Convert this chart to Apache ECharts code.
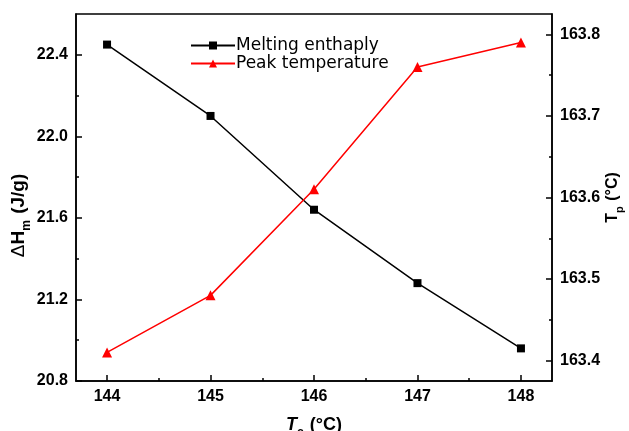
<!DOCTYPE html>
<html>
<head>
<meta charset="utf-8">
<script src="https://cdn.jsdelivr.net/npm/echarts@6/dist/echarts.min.js"></script>
<style>
html,body{margin:0;padding:0;background:#fff;}
#chart{width:629px;height:431px;}
</style>
</head>
<body>
<div id="chart"></div>
<script>
var tc = [144, 145, 146, 147, 148];
var enthalpy = [22.45, 22.10, 21.64, 21.28, 20.96];
var peakTemp = [163.41, 163.48, 163.61, 163.76, 163.79];
var xTicks = [144, 145, 146, 147, 148];
var xMinorTicks = [144.5, 145.5, 146.5, 147.5];
var leftTicks = [20.8, 21.2, 21.6, 22.0, 22.4];
var leftMinorTicks = [21.0, 21.4, 21.8, 22.2];
var rightTicks = [163.4, 163.5, 163.6, 163.7, 163.8];
var rightMinorTicks = [163.45, 163.55, 163.65, 163.75];

var FONT = 'Liberation Sans, Arial, sans-serif';
var chart = echarts.init(document.getElementById('chart'), null, {renderer: 'canvas'});

function fmt1(v){ return v.toFixed(1); }
function fmt0(v){ return String(Math.round(v)); }

function makeRich(size, subSize, drop){
  return {
    b: {fontFamily: FONT, fontWeight: 'bold', fontSize: size, color: '#000', verticalAlign: 'bottom', padding: [0,0,drop,0]},
    i: {fontFamily: FONT, fontWeight: 'bold', fontStyle: 'italic', fontSize: size, color: '#000', verticalAlign: 'bottom', padding: [0,0,drop,0]},
    d: {fontFamily: FONT, fontWeight: 'normal', fontSize: size, color: '#000', verticalAlign: 'bottom', padding: [0,0,drop,0]},
    s: {fontFamily: FONT, fontWeight: 'bold', fontSize: subSize, color: '#000', verticalAlign: 'bottom', padding: [0,1,0,0]}
  };
}

var axisLineStyle = {show: true, lineStyle: {color: '#000', width: 1.5}};

var option = {
  backgroundColor: '#fff',
  animation: false,
  grid: {left: 76, right: 77, top: 14, bottom: 50, show: true, borderColor: '#000', borderWidth: 1.5, backgroundColor: 'transparent', outerBoundsMode: 'none', containLabel: false},
  legend: {
    left: 185, top: 32, orient: 'vertical', itemGap: 1, itemWidth: 44, itemHeight: 10,
    textStyle: {fontFamily: 'DejaVu Sans', fontSize: 17, color: '#000', padding: [0,0,0,-4]},
    data: ['Melting enthaply', 'Peak temperature']
  },
  xAxis: [{
    type: 'value', min: 143.7, max: 148.3, position: 'bottom',
    axisLine: axisLineStyle,
    axisTick: {show: true, inside: true, length: 6, customValues: xTicks, lineStyle: {color: '#000', width: 1.5}},
    axisLabel: {customValues: xTicks, formatter: fmt0, fontFamily: FONT, fontWeight: 'bold', fontSize: 16, color: '#000', margin: 8},
    splitLine: {show: false},
    name: '{i|T}{s|c}{b| (°C)}', nameLocation: 'middle', nameGap: 35, nameMoveOverlap: false,
    nameTextStyle: {rich: makeRich(18, 12, 5)}
  }, {
    type: 'value', min: 143.7, max: 148.3, position: 'bottom',
    axisLine: {show: false},
    axisTick: {show: true, inside: true, length: 3, customValues: xMinorTicks, lineStyle: {color: '#000', width: 1.5}},
    axisLabel: {show: false}, splitLine: {show: false}
  }],
  yAxis: [{
    type: 'value', min: 20.8, max: 22.6, position: 'left',
    axisLine: axisLineStyle,
    axisTick: {show: true, inside: true, length: 6, customValues: leftTicks, lineStyle: {color: '#000', width: 1.5}},
    axisLabel: {customValues: leftTicks, formatter: fmt1, fontFamily: FONT, fontWeight: 'bold', fontSize: 16, color: '#000', margin: 8},
    splitLine: {show: false},
    name: '{d|Δ}{b|H}{s|m}{b| (J/g)}', nameLocation: 'middle', nameGap: 43, nameRotate: 90, nameMoveOverlap: false,
    nameTextStyle: {rich: makeRich(19, 12, 5), padding: [0, 36, 0, 0]}
  }, {
    type: 'value', min: 163.375, max: 163.825, position: 'right',
    axisLine: axisLineStyle,
    axisTick: {show: true, inside: true, length: 6, customValues: rightTicks, lineStyle: {color: '#000', width: 1.5}},
    axisLabel: {customValues: rightTicks, formatter: fmt1, fontFamily: FONT, fontWeight: 'bold', fontSize: 16, color: '#000', margin: 8},
    splitLine: {show: false},
    name: '{b|T}{s|p}{b| (°C)}', nameLocation: 'middle', nameGap: 53, nameRotate: 90, nameMoveOverlap: false,
    nameTextStyle: {rich: makeRich(16, 11, 4)}
  }, {
    type: 'value', min: 20.8, max: 22.6, position: 'left',
    axisLine: {show: false},
    axisTick: {show: true, inside: true, length: 3, customValues: leftMinorTicks, lineStyle: {color: '#000', width: 1.5}},
    axisLabel: {show: false}, splitLine: {show: false}
  }, {
    type: 'value', min: 163.375, max: 163.825, position: 'right',
    axisLine: {show: false},
    axisTick: {show: true, inside: true, length: 3, customValues: rightMinorTicks, lineStyle: {color: '#000', width: 1.5}},
    axisLabel: {show: false}, splitLine: {show: false}
  }],
  series: [{
    name: 'Melting enthaply', type: 'line', xAxisIndex: 0, yAxisIndex: 0,
    data: tc.map(function(x, i){ return [x, enthalpy[i]]; }),
    symbol: 'rect', symbolSize: 8,
    lineStyle: {color: '#000', width: 1.5},
    itemStyle: {color: '#000'}
  }, {
    name: 'Peak temperature', type: 'line', xAxisIndex: 0, yAxisIndex: 1,
    data: tc.map(function(x, i){ return [x, peakTemp[i]]; }),
    symbol: 'triangle', symbolSize: 10,
    lineStyle: {color: '#ff0000', width: 1.5},
    itemStyle: {color: '#ff0000'}
  }]
};
chart.setOption(option);
</script>
</body>
</html>
